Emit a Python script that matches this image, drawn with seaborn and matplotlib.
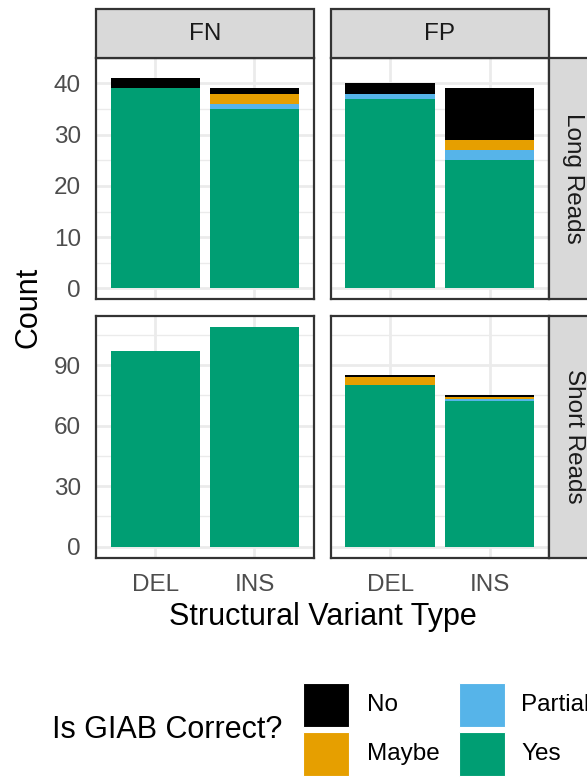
import numpy as np
import pandas as pd
import matplotlib
matplotlib.use("Agg")
import matplotlib.pyplot as plt
from matplotlib.patches import Rectangle
import seaborn as sns

# data
sv_types = ["DEL", "INS"]
calls = ["FN", "FP"]
platforms = ["Long Reads", "Short Reads"]
levels = ["No", "Maybe", "Partial", "Yes"]
colors = {"No": "#000000", "Maybe": "#E69F00", "Partial": "#56B4E9", "Yes": "#009E73"}

# order: (platform, call, type)
panel_platform = ["Long Reads"] * 4 + ["Short Reads"] * 4
panel_call = ["FN", "FN", "FP", "FP"] * 2
panel_type = ["DEL", "INS"] * 4
yes_counts = [39, 35, 37, 25, 97, 109, 80, 72]
partial_counts = [0, 1, 1, 2, 0, 0, 0, 1]
maybe_counts = [0, 2, 0, 2, 0, 0, 4, 1]
no_counts = [2, 1, 2, 10, 0, 0, 1, 1]

df = pd.DataFrame({
    "platform": panel_platform, "call": panel_call, "type": panel_type,
    "Yes": yes_counts, "Partial": partial_counts, "Maybe": maybe_counts, "No": no_counts,
})
# stacked tops, Yes at the bottom
df["top_Yes"] = df["Yes"]
df["top_Partial"] = df["top_Yes"] + df["Partial"]
df["top_Maybe"] = df["top_Partial"] + df["Maybe"]
df["top_No"] = df["top_Maybe"] + df["No"]

sns.set_style("white")
plt.rcParams["font.family"] = ["Liberation Sans", "DejaVu Sans"]

W, H = 587, 777
fig = plt.figure(figsize=(W / 100, H / 100), dpi=100)

def fx(x):
    return x / W

def fy(y):
    return 1 - y / H

col_x = [(95.7, 314.0), (330.5, 549.3)]
row_y = [(57.7, 299.0), (315.7, 557.7)]
yticks = {"Long Reads": [0, 10, 20, 30, 40], "Short Reads": [0, 30, 60, 90]}
border = "#333333"

for r, plat in enumerate(platforms):
    sub_plat = df[df["platform"] == plat]
    ymax = sub_plat["top_No"].max()
    for c, call in enumerate(calls):
        x0, x1 = col_x[c]
        y0, y1 = row_y[r]
        ax = fig.add_axes([fx(x0), fy(y1), fx(x1 - x0), (y1 - y0) / H])
        sub = sub_plat[sub_plat["call"] == call]
        for lev in levels:
            sns.barplot(data=sub, x="type", y=f"top_{lev}", order=sv_types, color=colors[lev],
                        saturation=1, width=0.9, errorbar=None, linewidth=0, ax=ax, zorder=3)
        ax.set_xlim(-0.6, 1.6)
        ax.set_ylim(-0.05 * ymax, 1.05 * ymax)
        ticks = yticks[plat]
        step = ticks[1] - ticks[0]
        ax.set_yticks(ticks)
        ax.set_yticks([t + step / 2 for t in ticks], minor=True)
        ax.set_xticks([0, 1])
        ax.grid(True, which="major", color="#EBEBEB", linewidth=2.0, zorder=0)
        ax.grid(True, which="minor", axis="y", color="#EBEBEB", linewidth=1.0, zorder=0)
        ax.set_axisbelow(True)
        for s in ax.spines.values():
            s.set_color(border)
            s.set_linewidth(1.6)
            s.set_zorder(5)
        ax.set_xlabel("")
        ax.set_ylabel("")
        ax.tick_params(which="minor", length=0)
        ax.tick_params(which="major", color=border, width=1.4, length=6.5,
                       labelsize=17.5, labelcolor="#4D4D4D", pad=4)
        ax.tick_params(axis="x", pad=5)
        if c != 0:
            ax.tick_params(axis="y", length=0, labelleft=False)
        if r != len(platforms) - 1:
            ax.tick_params(axis="x", length=0, labelbottom=False)
        else:
            ax.set_xticklabels(sv_types)

        # top strips
        if r == 0:
            sax = fig.add_axes([fx(x0), fy(y0), fx(x1 - x0), 48.4 / H])
            sax.add_patch(Rectangle((0, 0), 1, 1, facecolor="#D9D9D9", edgecolor=border,
                                    linewidth=1.6, transform=sax.transAxes, clip_on=False))
            sax.text(0.5, 0.5, call, ha="center", va="center", fontsize=17.5, color="#1A1A1A")
            sax.set_axis_off()
        # right strips
        if c == len(calls) - 1:
            sax = fig.add_axes([fx(x1), fy(y1), 48.4 / W, (y1 - y0) / H])
            sax.add_patch(Rectangle((0, 0), 1, 1, facecolor="#D9D9D9", edgecolor=border,
                                    linewidth=1.6, transform=sax.transAxes, clip_on=False))
            sax.text(0.5, 0.5, plat, ha="center", va="center", rotation=-90,
                     fontsize=17.5, color="#1A1A1A")
            sax.set_axis_off()

fig.text(fx(28), fy((row_y[0][0] + row_y[1][1]) / 2), "Count", rotation=90,
         ha="center", va="center", fontsize=22, color="black")
fig.text(fx((col_x[0][0] + col_x[1][1]) / 2), fy(616.7), "Structural Variant Type",
         ha="center", va="center", fontsize=22, color="black")

# legend, laid out like ggplot's (title on the left, 2 x 2 keys)
fig.text(fx(51.7), fy(730), "Is GIAB Correct?", ha="left", va="center", fontsize=22, color="black")
key_cols = [303.3, 459.3]
label_cols = [367.3, 521.0]
key_rows = [682.7, 731.7]
key_w, key_h = 45.5, 44.5
for i, lev in enumerate(levels):
    c, r = divmod(i, 2)
    fig.patches.append(Rectangle((fx(key_cols[c]), fy(key_rows[r] + key_h)), key_w / W, key_h / H,
                                 facecolor=colors[lev], edgecolor="white", linewidth=0.8,
                                 transform=fig.transFigure, figure=fig))
    fig.text(fx(label_cols[c]), fy(key_rows[r] + key_h / 2), lev, ha="left", va="center",
             fontsize=17.5, color="black")

fig.savefig("out.png", dpi=100)
